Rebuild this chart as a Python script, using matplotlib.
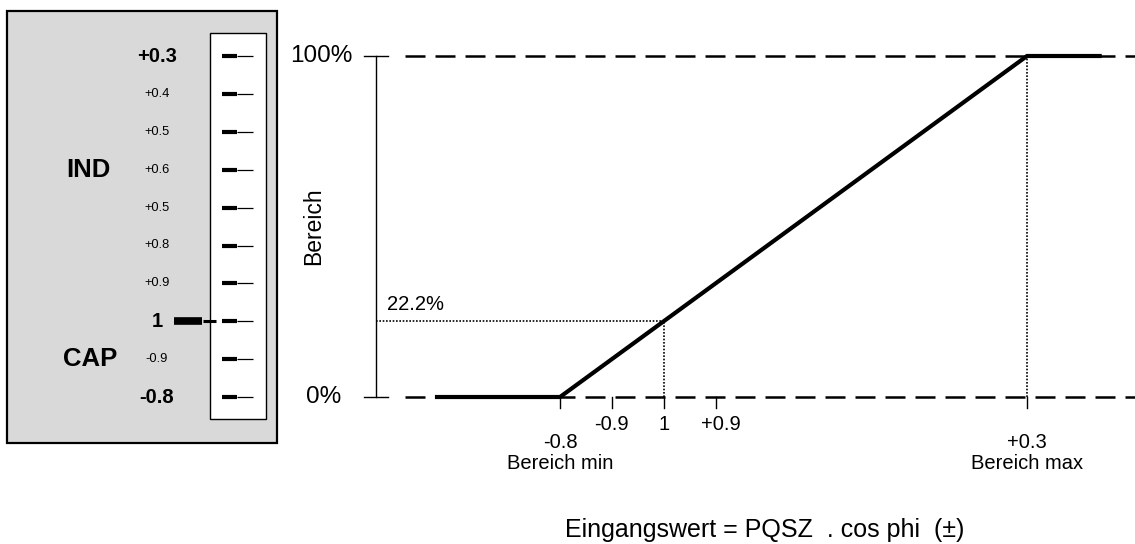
import matplotlib
matplotlib.use("Agg")
import matplotlib.pyplot as plt
from matplotlib.patches import Rectangle

plt.rcParams['font.family'] = ['Liberation Sans', 'DejaVu Sans']

# ---- data ----
# scale labels of the meter (top to bottom) and which ones are printed bold
meter_labels = ["+0.3", "+0.4", "+0.5", "+0.6", "+0.5", "+0.8", "+0.9", "1", "-0.9", "-0.8"]
meter_bold = [True, False, False, False, False, False, False, True, False, True]
meter_pointer = "1"

# transfer curve: x in scale steps from "Bereich min" (-0.8) to "Bereich max" (+0.3)
curve_x = [-2.37, 0, 9, 10.4]
curve_y = [0, 0, 100, 100]
axis_tick_pos = [0, 1, 2, 3, 9]
axis_tick_labels = ["-0.8", "-0.9", "1", "+0.9", "+0.3"]
setpoint_pos = 2
setpoint_pct = 22.2

W, H = 1135, 544
fig = plt.figure(figsize=(W / 100, H / 100), dpi=100)

# ---- left: meter panel (pixel coordinates) ----
axl = fig.add_axes([0, 0, 1, 1])
axl.set_xlim(0, W)
axl.set_ylim(H, 0)
axl.axis('off')
axl.add_patch(Rectangle((7, 11), 270, 432, facecolor='#d9d9d9', edgecolor='black', lw=1.6, zorder=1))
axl.add_patch(Rectangle((210, 33), 56, 386, facecolor='white', edgecolor='black', lw=1.0, zorder=2))
y0, dy = 56, 37.9
for i, (lab, bold) in enumerate(zip(meter_labels, meter_bold)):
    y = y0 + i * dy
    axl.plot([222, 237], [y, y], color='black', lw=3.0, solid_capstyle='butt', zorder=3)
    axl.plot([237, 253], [y, y], color='black', lw=0.9, solid_capstyle='butt', zorder=3)
    axl.text(157, y, lab, ha='center', va='center',
             fontsize=14.5 if bold else 9.3, fontweight='bold' if bold else 'normal', zorder=3)
    if lab == meter_pointer and bold:
        axl.plot([174, 202], [y, y], color='black', lw=5.5, solid_capstyle='butt', zorder=3)
        axl.plot([203, 216], [y, y], color='black', lw=2.2, solid_capstyle='butt', zorder=3)
axl.text(88, 170, "IND", ha='center', va='center', fontsize=18.5, fontweight='bold')
axl.text(90, 359, "CAP", ha='center', va='center', fontsize=18.5, fontweight='bold')

# ---- right: transfer characteristic ----
ax = fig.add_axes([0, 0, 1, 1])
ax.patch.set_alpha(0)
px_step = 51.89
px_pct = 3.41
x0_px, y0_px = 560, 397
ax.set_xlim((0 - x0_px) / px_step, (W - x0_px) / px_step)
ax.set_ylim((y0_px - H) / px_pct, y0_px / px_pct)
ax.axis('off')

xl, xr = ax.get_xlim()
dash_start = -2.99
for lvl in (0, 100):
    ax.plot([dash_start, xr], [lvl, lvl], color='black', lw=1.8,
            linestyle=(0, (8, 4)), zorder=2)

# range bracket
xb = -3.546
ax.plot([xb, xb], [0, 100], color='black', lw=1.0)
for lvl in (0, 100):
    ax.plot([xb - 0.23, xb + 0.23], [lvl, lvl], color='black', lw=1.0)
ax.text(-4.6, 100, "100%", ha='center', va='center', fontsize=17.5)
ax.text(-4.55, 0, "0%", ha='center', va='center', fontsize=17.5)
ax.text(-4.74, 50, "Bereich", ha='center', va='center', fontsize=16.5, rotation=90)

# curve
ax.plot(curve_x, curve_y, color='black', lw=3.0, solid_joinstyle='miter', zorder=4)

# setpoint guides
ax.plot([xb, setpoint_pos], [setpoint_pct, setpoint_pct], color='black', lw=1.2,
        linestyle=(0, (1, 1)), zorder=3)
ax.plot([setpoint_pos, setpoint_pos], [0, setpoint_pct], color='black', lw=1.2,
        linestyle=(0, (1, 1)), zorder=3)
ax.plot([axis_tick_pos[-1], axis_tick_pos[-1]], [0, 100], color='black', lw=1.2,
        linestyle=(0, (1, 1)), zorder=3)
ax.text(-3.33, 27, f"{setpoint_pct:.1f}%", ha='left', va='center', fontsize=14.5)

# ticks and labels under the 0% line
for pos, lab in zip(axis_tick_pos, axis_tick_labels):
    ax.plot([pos, pos], [0, -3.3], color='black', lw=1.0, zorder=3)
    low = pos in (axis_tick_pos[0], axis_tick_pos[-1])
    dx = 0.1 if lab.startswith('+') and not low else 0
    ax.text(pos + dx, -13.2 if low else -8.2, lab, ha='center', va='center', fontsize=14.5)
ax.text(axis_tick_pos[0], -19.6, "Bereich min", ha='center', va='center', fontsize=14.5)
ax.text(axis_tick_pos[-1], -19.6, "Bereich max", ha='center', va='center', fontsize=14.5)

ax.text((765 - x0_px) / px_step, (y0_px - 530) / px_pct, "Eingangswert = PQSZ  . cos phi  (±)",
        ha='center', va='center', fontsize=18)

fig.savefig("out.png", dpi=100)
